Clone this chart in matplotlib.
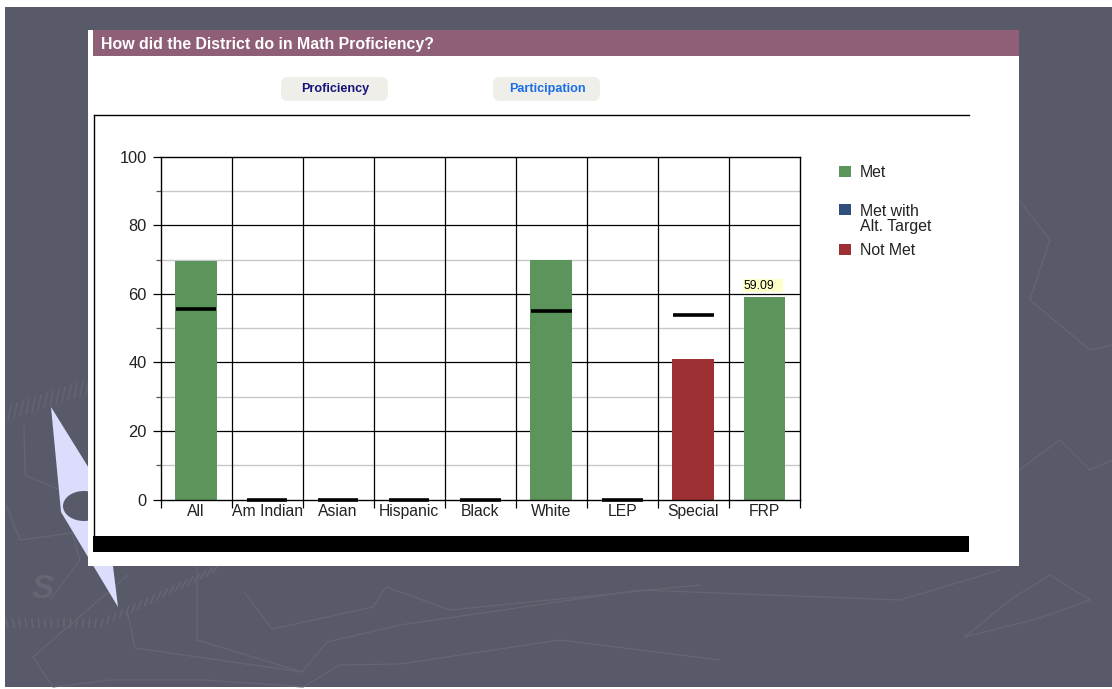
import matplotlib
matplotlib.use('Agg')
import matplotlib.pyplot as plt
from matplotlib.patches import Rectangle, Polygon, Ellipse, FancyBboxPatch

plt.rcParams['font.family'] = ['Liberation Sans', 'DejaVu Sans']

# data
categories = ['All', 'Am Indian', 'Asian', 'Hispanic', 'Black', 'White', 'LEP', 'Special', 'FRP']
values = [69.5, 0, 0, 0, 0, 70, 0, 41, 59.09]
targets = [55.5, 0, 0, 0, 0, 55, 0, 54, None]
status = ['Met', None, None, None, None, 'Met', None, 'Not Met', 'Met']
legend_labels = ['Met', 'Met with\nAlt. Target', 'Not Met']
y_ticks = [0, 20, 40, 60, 80, 100]
y_minor = [10, 30, 50, 70, 90]

colors = {'Met': '#5b955c', 'Met with\nAlt. Target': '#2f4f7c', 'Not Met': '#9c3032'}
BG = '#585a69'
FAINT = '#646673'
TEXT = '#222222'

fig = plt.figure(figsize=(11.12, 6.89), dpi=100, facecolor='white')

# slide layer, in pixels
bg = fig.add_axes([0, 0, 1, 1], zorder=0)
bg.set_xlim(0, 1112)
bg.set_ylim(689, 0)
bg.axis('off')
bg.add_patch(Rectangle((5, 7), 1107, 680, color=BG, lw=0))

# faint map lines of the slide background
faint_lines = [
    [(33, 657), (53, 687), (110, 680), (205, 680), (303, 687), (340, 665), (400, 664), (560, 640), (720, 660)],
    [(127, 610), (135, 648), (302, 672), (327, 642), (400, 625), (640, 590), (900, 600), (1000, 570)],
    [(197, 553), (197, 640), (302, 672)],
    [(245, 593), (272, 629), (373, 607), (386, 587), (450, 610), (700, 585)],
    [(33, 657), (128, 575)],
    [(965, 637), (1010, 600), (1050, 575), (1090, 600), (1040, 618), (965, 637)],
    [(24, 425), (25, 475), (60, 490)],
    [(6, 505), (20, 540), (72, 533), (80, 560), (50, 600)],
    [(1019, 200), (1050, 240), (1030, 300), (1090, 350), (1112, 345)],
    [(1019, 470), (1060, 440), (1090, 470), (1112, 460)],
]
for pts in faint_lines:
    bg.plot([p[0] for p in pts], [p[1] for p in pts], color=FAINT, lw=0.9, zorder=1)
for i in range(34):
    x = 8 + i * 6.2
    y = 627 - max(0, i - 15) * 3.0
    bg.plot([x, x - 2 + i * 0.25], [y, y - 8], color=FAINT, lw=1.2, zorder=1)
for i in range(14):
    bg.plot([8 + i * 6, 11 + i * 6], [420 - i * 2, 405 - i * 2], color=FAINT, lw=1, zorder=1)
bg.text(43, 589, 'S', color=FAINT, fontsize=24, fontweight='bold', style='italic',
        ha='center', va='center', zorder=1)

# compass needle
bg.add_patch(Polygon([(51, 407), (113, 507), (113, 566), (118, 607), (61, 512)], color='#dcdcfc', lw=0, zorder=2))
bg.add_patch(Ellipse((84, 506), 42, 30, color=BG, lw=0, zorder=3))

# white panel
bg.add_patch(Rectangle((88, 30), 931, 536, color='white', lw=0, zorder=4))
bg.add_patch(Rectangle((93, 30), 926, 25.5, color='#8f5f78', lw=0, zorder=5))
bg.text(101, 44.5, 'How did the District do in Math Proficiency?', color='white',
        fontsize=11.4, fontweight='bold', ha='left', va='center', zorder=6)

# tab buttons
for x0, label, col in [(281, 'Proficiency', '#14147a'), (493, 'Participation', '#1a6ee8')]:
    bg.add_patch(FancyBboxPatch((x0, 77), 107, 24, boxstyle='round,pad=0,rounding_size=7',
                                facecolor='#f0eee8', edgecolor='none', zorder=5))
    bg.text(x0 + 54, 89, label, color=col, fontsize=9.1, fontweight='bold',
            ha='center', va='center', zorder=6)

# chart frame and black strip
bg.plot([94, 94], [536, 115], color='black', lw=1, zorder=5)
bg.plot([94, 969], [115, 115], color='black', lw=1, zorder=5)
bg.add_patch(Rectangle((93, 536), 876, 16, color='black', lw=0, zorder=5))

# legend
for y, label in zip([171, 209, 249], legend_labels):
    bg.add_patch(Rectangle((838.5, y - 5.5), 12, 11, color=colors[label], lw=0, zorder=6))
    bg.text(860, y + 1.5 if '\n' not in label else y + 10, label, fontsize=11.4, color=TEXT,
            linespacing=1.0, ha='left', va='center', zorder=6)

# chart, drawn through its own axes
ax = fig.add_axes([160.5 / 1112, 1 - 499.5 / 689, 639.5 / 1112, 342.5 / 689], zorder=2)
ax.patch.set_alpha(0)
x = list(range(len(categories)))
ax.set_xlim(-0.5, len(categories) - 0.5)
ax.set_ylim(0, 100)

for v in y_minor:
    ax.axhline(v, color='#c8c8c8', lw=1, zorder=1)
for v in y_ticks[1:-1]:
    ax.axhline(v, color='black', lw=0.9, zorder=1)
for i in x[1:]:
    ax.axvline(i - 0.5, color='black', lw=0.9, zorder=1)

for i, (v, s) in enumerate(zip(values, status)):
    if s is not None:
        ax.bar(i, v, width=0.59, color=colors[s], zorder=2)

for i, t in enumerate(targets):
    if t is not None:
        ax.plot([i - 0.285, i + 0.285], [t, t], color='black', lw=2.6, zorder=3,
                solid_capstyle='butt', clip_on=False)

# value tip over the last bar
ax.add_patch(Rectangle((7.70, 60.6), 0.56, 3.8, facecolor='#ffffc8', edgecolor='none', zorder=4))
ax.text(7.70, 62.4, f'{values[8]:.2f}', fontsize=8.8, color='black', ha='left', va='center', zorder=5)

for side in ['top', 'right', 'left', 'bottom']:
    ax.spines[side].set_linewidth(1)
ax.set_yticks(y_ticks)
ax.set_yticks(y_minor, minor=True)
ax.tick_params(axis='y', which='major', length=5.8, width=0.9, labelsize=11.8, pad=4, labelcolor=TEXT)
ax.tick_params(axis='y', which='minor', length=3.5, width=0.9, color='#555555')
ax.set_xticks([i - 0.5 for i in range(len(categories) + 1)])
ax.set_xticklabels([])
ax.tick_params(axis='x', length=5.4, width=0.9)
for i, c in enumerate(categories):
    ax.text(i, -3.4, c, fontsize=11.3, color=TEXT, ha='center', va='center', clip_on=False)

fig.savefig('out.png', dpi=100)
